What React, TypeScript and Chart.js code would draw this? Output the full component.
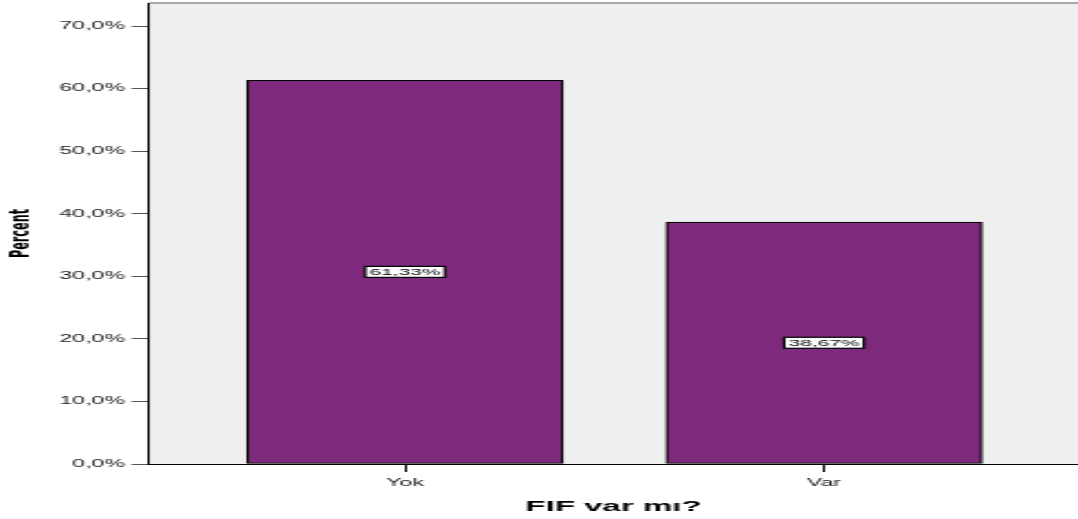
import React, { useEffect, useRef } from 'react';
import { Chart, registerables } from 'chart.js';

Chart.register(...registerables);

// ---- data ----
const categories = ['Yok', 'Var'];
const percentValues = [61.33, 38.67];
const yTickValues = [0, 10, 20, 30, 40, 50, 60, 70];
const xAxisTitle = 'FIF var mı?';
const yAxisTitle = 'Percent';

// ---- layout (display is stretched horizontally, like the reference) ----
const STRETCH = 2.2;
const VIEW_W = 1078;
const CANVAS_H = 540;
const INNER_W = Math.round(VIEW_W / STRETCH);
const PLOT_LEFT = 149 / STRETCH;
const PLOT_TOP = 3;
const PLOT_BOTTOM = 464;
const X_MIN = 0.389;
const X_MAX = 2.606;
const BAR_W = 316 / STRETCH;

const FONT = "'Liberation Sans', Arial, Helvetica, sans-serif";

const fmt = (v: number, d: number) => v.toFixed(d).replace('.', ',') + '%';

const plotBg = {
  id: 'plotBg',
  beforeDraw(chart: any) {
    const { ctx, chartArea: a } = chart;
    ctx.save();
    ctx.fillStyle = '#efefef';
    ctx.fillRect(a.left, a.top, a.right - a.left, a.bottom - a.top);
    ctx.strokeStyle = '#a8a8a8';
    ctx.lineWidth = 2;
    ctx.beginPath();
    ctx.moveTo(a.left, a.top);
    ctx.lineTo(a.right, a.top);
    ctx.stroke();
    ctx.restore();
  },
};

const barLabels = {
  id: 'barLabels',
  afterDatasetsDraw(chart: any) {
    const { ctx } = chart;
    const meta = chart.getDatasetMeta(0);
    ctx.save();
    ctx.font = `9.5px ${FONT}`;
    meta.data.forEach((bar: any, i: number) => {
      const { x, y, base } = bar.getProps(['x', 'y', 'base'], true);
      const cy = (y + base) / 2;
      const text = fmt(percentValues[i], 2);
      const tw = ctx.measureText(text).width;
      const w = tw + 4;
      const h = 11;
      ctx.fillStyle = '#ffffff';
      ctx.fillRect(x - w / 2, cy - h / 2, w, h);
      ctx.strokeStyle = '#000000';
      ctx.lineWidth = 1.2;
      ctx.strokeRect(x - w / 2, cy - h / 2, w, h);
      ctx.fillStyle = '#000000';
      ctx.textAlign = 'center';
      ctx.textBaseline = 'middle';
      ctx.fillText(text, x, cy + 0.5);
    });
    ctx.restore();
  },
};

export default function App() {
  const ref = useRef<HTMLCanvasElement | null>(null);

  useEffect(() => {
    if (!ref.current) return;
    const chart = new Chart(ref.current, {
      type: 'bar',
      data: {
        datasets: [
          {
            data: categories.map((c, i) => ({ x: i + 1, y: percentValues[i] })),
            backgroundColor: '#7e2a7c',
            borderColor: '#000000',
            borderWidth: 1.2,
            borderSkipped: false,
            barThickness: BAR_W,
          },
        ],
      },
      options: {
        animation: false,
        responsive: false,
        maintainAspectRatio: false,
        devicePixelRatio: 1,
        layout: { padding: { top: PLOT_TOP, left: 0, right: 0, bottom: 0 } },
        plugins: {
          legend: { display: false },
          tooltip: { enabled: false },
        },
        scales: {
          x: {
            type: 'linear',
            offset: false,
            min: X_MIN,
            max: X_MAX,
            afterBuildTicks: (scale: any) => {
              scale.ticks = categories.map((c, i) => ({ value: i + 1 }));
            },
            afterFit: (scale: any) => {
              scale.height = CANVAS_H - PLOT_BOTTOM;
              scale.paddingLeft = 0;
              scale.paddingRight = 0;
            },
            ticks: {
              autoSkip: false,
              maxRotation: 0,
              padding: 5,
              color: '#1a1a1a',
              font: { family: FONT, size: 10.5 },
              callback: (v: any) => categories[Math.round(Number(v)) - 1] ?? '',
            },
            grid: {
              offset: false,
              drawOnChartArea: false,
              drawTicks: true,
              tickLength: 8,
              tickColor: '#000000',
              tickWidth: 1,
            },
            border: { display: true, color: '#000000', width: 1 },
            title: {
              display: true,
              text: xAxisTitle,
              color: '#000000',
              font: { family: FONT, size: 15, weight: 'bold' },
              padding: { top: 0, bottom: 24 },
            },
          },
          y: {
            min: 0,
            max: (PLOT_BOTTOM - PLOT_TOP) / ((PLOT_BOTTOM - 26) / 70),
            afterBuildTicks: (scale: any) => {
              scale.ticks = yTickValues.map((v) => ({ value: v }));
            },
            afterFit: (scale: any) => {
              scale.width = PLOT_LEFT;
              scale.paddingTop = 0;
              scale.paddingBottom = 0;
            },
            ticks: {
              padding: 3,
              color: '#1a1a1a',
              font: { family: FONT, size: 10.5 },
              callback: (v: any) => fmt(Number(v), 1),
            },
            grid: {
              drawOnChartArea: false,
              drawTicks: true,
              tickLength: 8,
              tickColor: '#555555',
              tickWidth: 1,
            },
            border: { display: true, color: '#000000', width: 1 },
            title: {
              display: true,
              text: yAxisTitle,
              color: '#000000',
              font: {
                family: "'Liberation Sans Narrow', 'DejaVu Sans Condensed', 'Liberation Sans', Arial, sans-serif",
                size: 12.5,
                weight: 'bold',
              },
              padding: { top: 2, bottom: 4 },
            },
          },
        },
      },
      plugins: [plotBg, barLabels],
    } as any);
    return () => chart.destroy();
  }, []);

  return (
    <div
      style={{
        position: 'fixed',
        left: 0,
        top: 0,
        width: VIEW_W,
        height: 519,
        overflow: 'hidden',
        background: '#ffffff',
      }}
    >
      <canvas
        ref={ref}
        width={INNER_W}
        height={CANVAS_H}
        style={{ width: `${VIEW_W}px`, height: `${CANVAS_H}px`, display: 'block' }}
      />
    </div>
  );
}
